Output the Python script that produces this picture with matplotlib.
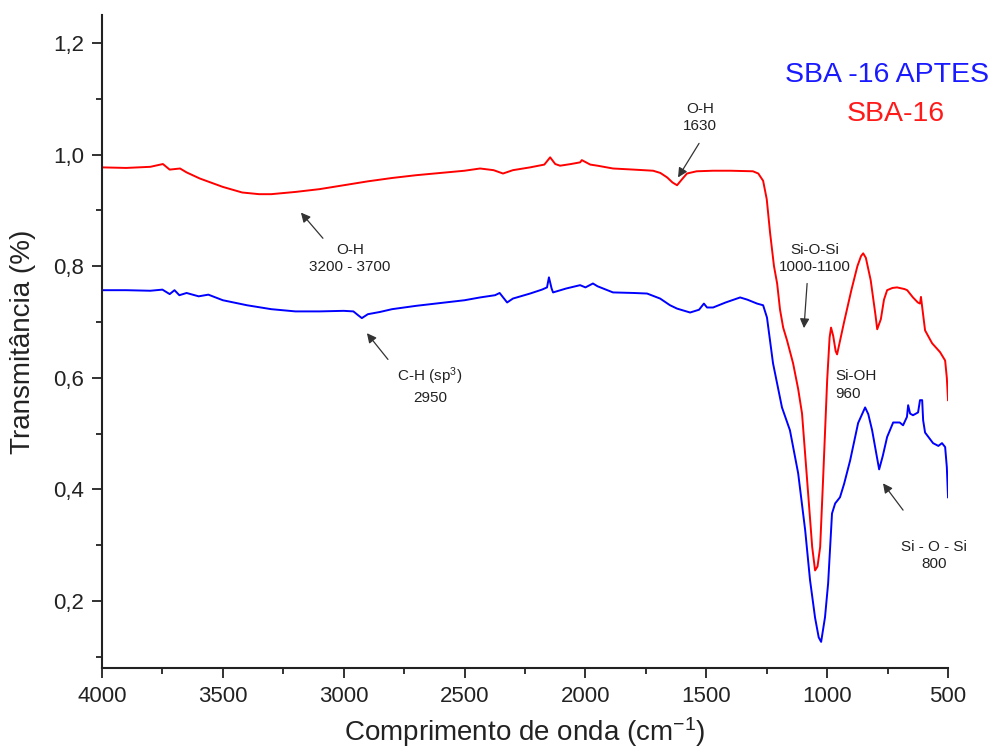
import matplotlib
matplotlib.use("Agg")
import matplotlib.pyplot as plt
from matplotlib.ticker import MultipleLocator, FuncFormatter

plt.rcParams['font.family'] = ['Liberation Sans', 'DejaVu Sans']
plt.rcParams['mathtext.default'] = 'regular'

# FTIR spectrum, SBA-16
sba_wn = [4000, 3900, 3800, 3748, 3720, 3677, 3650, 3595, 3500, 3420, 3350, 3300,
          3250, 3200, 3100, 3000, 2900, 2800, 2700, 2600, 2500, 2436, 2380, 2341,
          2300, 2229, 2170, 2146, 2125, 2105, 2060, 2022, 2015, 1980, 1950, 1886,
          1800, 1720, 1690, 1662, 1640, 1621, 1600, 1580, 1540, 1472, 1400, 1307,
          1285, 1265, 1250, 1236, 1220, 1207, 1195, 1182, 1166, 1141, 1120, 1104,
          1083, 1062, 1050, 1040, 1029, 1017, 1000, 990, 984, 975, 965, 959, 950,
          930, 900, 875, 860, 851, 840, 820, 800, 793, 778, 765, 752, 730, 711,
          680, 669, 645, 625, 616, 612, 605, 595, 566, 533, 512, 505, 500]
sba_t = [0.977, 0.976, 0.978, 0.983, 0.973, 0.975, 0.968, 0.957, 0.942, 0.932, 0.929, 0.929,
         0.931, 0.933, 0.938, 0.945, 0.952, 0.958, 0.963, 0.967, 0.971, 0.975, 0.972, 0.966,
         0.972, 0.977, 0.982, 0.995, 0.983, 0.980, 0.983, 0.986, 0.990, 0.982, 0.980, 0.975,
         0.973, 0.971, 0.967, 0.959, 0.950, 0.945, 0.956, 0.966, 0.970, 0.971, 0.971, 0.970,
         0.966, 0.953, 0.920, 0.859, 0.800, 0.769, 0.722, 0.690, 0.667, 0.626, 0.580, 0.536,
         0.417, 0.297, 0.255, 0.262, 0.297, 0.417, 0.596, 0.672, 0.690, 0.675, 0.648, 0.642, 0.660,
         0.700, 0.757, 0.800, 0.818, 0.823, 0.815, 0.775, 0.712, 0.687, 0.705, 0.740, 0.757, 0.761, 0.762,
         0.759, 0.757, 0.744, 0.735, 0.733, 0.745, 0.720, 0.685, 0.662, 0.646, 0.631, 0.600, 0.560]

# FTIR spectrum, SBA-16 functionalised with APTES
aptes_wn = [4000, 3900, 3800, 3750, 3720, 3700, 3680, 3650, 3600, 3560, 3500, 3400,
            3300, 3200, 3100, 3000, 2960, 2940, 2925, 2900, 2850, 2800, 2700, 2600,
            2500, 2436, 2374, 2355, 2324, 2300, 2229, 2180, 2159, 2151, 2140, 2134,
            2080, 2022, 2000, 1969, 1950, 1886, 1800, 1745, 1691, 1650, 1621, 1567,
            1530, 1510, 1497, 1472, 1420, 1360, 1330, 1290, 1265, 1249, 1224, 1187,
            1154, 1120, 1091, 1071, 1050, 1035, 1025, 1009, 996, 980, 967, 947, 930,
            905, 872, 843, 830, 814, 795, 785, 770, 752, 727, 700, 686, 670, 665,
            657, 645, 624, 616, 607, 603, 595, 562, 540, 525, 512, 505, 500]
aptes_t = [0.757, 0.757, 0.756, 0.758, 0.750, 0.757, 0.748, 0.752, 0.746, 0.749, 0.739, 0.730,
           0.723, 0.719, 0.719, 0.720, 0.719, 0.712, 0.707, 0.714, 0.718, 0.723, 0.729, 0.734,
           0.739, 0.744, 0.748, 0.752, 0.735, 0.742, 0.751, 0.758, 0.762, 0.780, 0.760, 0.753,
           0.760, 0.766, 0.762, 0.769, 0.764, 0.753, 0.752, 0.751, 0.742, 0.730, 0.724, 0.717,
           0.722, 0.733, 0.726, 0.726, 0.735, 0.744, 0.740, 0.733, 0.730, 0.708, 0.626, 0.547,
           0.506, 0.429, 0.327, 0.238, 0.170, 0.135, 0.127, 0.171, 0.232, 0.357, 0.375, 0.386, 0.410,
           0.452, 0.519, 0.547, 0.535, 0.506, 0.460, 0.436, 0.460, 0.494, 0.520, 0.520, 0.515, 0.530, 0.551,
           0.536, 0.533, 0.538, 0.560, 0.560, 0.524, 0.502, 0.483, 0.478, 0.483, 0.476, 0.440, 0.386]

# band assignments: text, text position, arrow tail, arrow head
bands = [
    ("O-H\n1630", (1526, 1.066), (1530, 1.020), (1617, 0.959)),
    ("O-H\n3200 - 3700", (2974, 0.814), (3086, 0.850), (3177, 0.896)),
    ("C-H (sp$^3$)\n2950", (2643, 0.587), (2817, 0.633), (2904, 0.680)),
    ("Si-O-Si\n1000-1100", (1050, 0.814), (1083, 0.769), (1096, 0.689)),
    ("Si - O - Si\n800", (558, 0.282), (686, 0.363), (769, 0.411)),
]

fig, ax = plt.subplots(figsize=(9.95, 7.49), dpi=100)
fig.subplots_adjust(left=0.1025, right=0.9528, bottom=0.108, top=0.98)

ax.plot(aptes_wn, aptes_t, color='#0000ff', lw=1.4)
ax.plot(sba_wn, sba_t, color='#ff0000', lw=1.4)

ax.set_xlim(4000, 500)
ax.set_ylim(0.08, 1.25)

ax.xaxis.set_major_locator(MultipleLocator(500))
ax.xaxis.set_minor_locator(MultipleLocator(250))
ax.yaxis.set_major_locator(MultipleLocator(0.2))
ax.yaxis.set_minor_locator(MultipleLocator(0.1))
ax.yaxis.set_major_formatter(FuncFormatter(lambda v, p: f"{v:.1f}".replace('.', ',')))

for side in ['top', 'right']:
    ax.spines[side].set_visible(False)
for side in ['left', 'bottom']:
    ax.spines[side].set_linewidth(1.5)
    ax.spines[side].set_color('#222222')

ax.tick_params(which='major', length=7, width=1.3, color='#222222', labelsize=16,
               labelcolor='#222222', pad=6)
ax.tick_params(which='minor', length=4, width=1.3, color='#222222')

ax.set_xlabel('Comprimento de onda (cm$^{-1}$)', fontsize=20, color='#222222', labelpad=6)
ax.set_ylabel('Transmitância (%)', fontsize=20, color='#222222', labelpad=12)

for text, txt_pos, tail, head in bands:
    ax.text(txt_pos[0], txt_pos[1], text, fontsize=11, ha='center', va='center',
            linespacing=1.3, color='#222222')
    ax.annotate('', xy=head, xytext=tail,
                arrowprops=dict(arrowstyle='-|>', color='#333333', lw=0.9,
                                mutation_scale=14, shrinkA=0, shrinkB=0))

ax.text(967, 0.587, "Si-OH\n960", fontsize=11, ha='left', va='center',
        linespacing=1.3, color='#222222')

ax.text(0.928, 0.908, 'SBA -16 APTES', transform=ax.transAxes, fontsize=20.5,
        color='#1a1aff', ha='center', va='center')
ax.text(0.9385, 0.848, 'SBA-16', transform=ax.transAxes, fontsize=20.5,
        color='#ff1a1a', ha='center', va='center')

plt.savefig('out.png', dpi=100)
